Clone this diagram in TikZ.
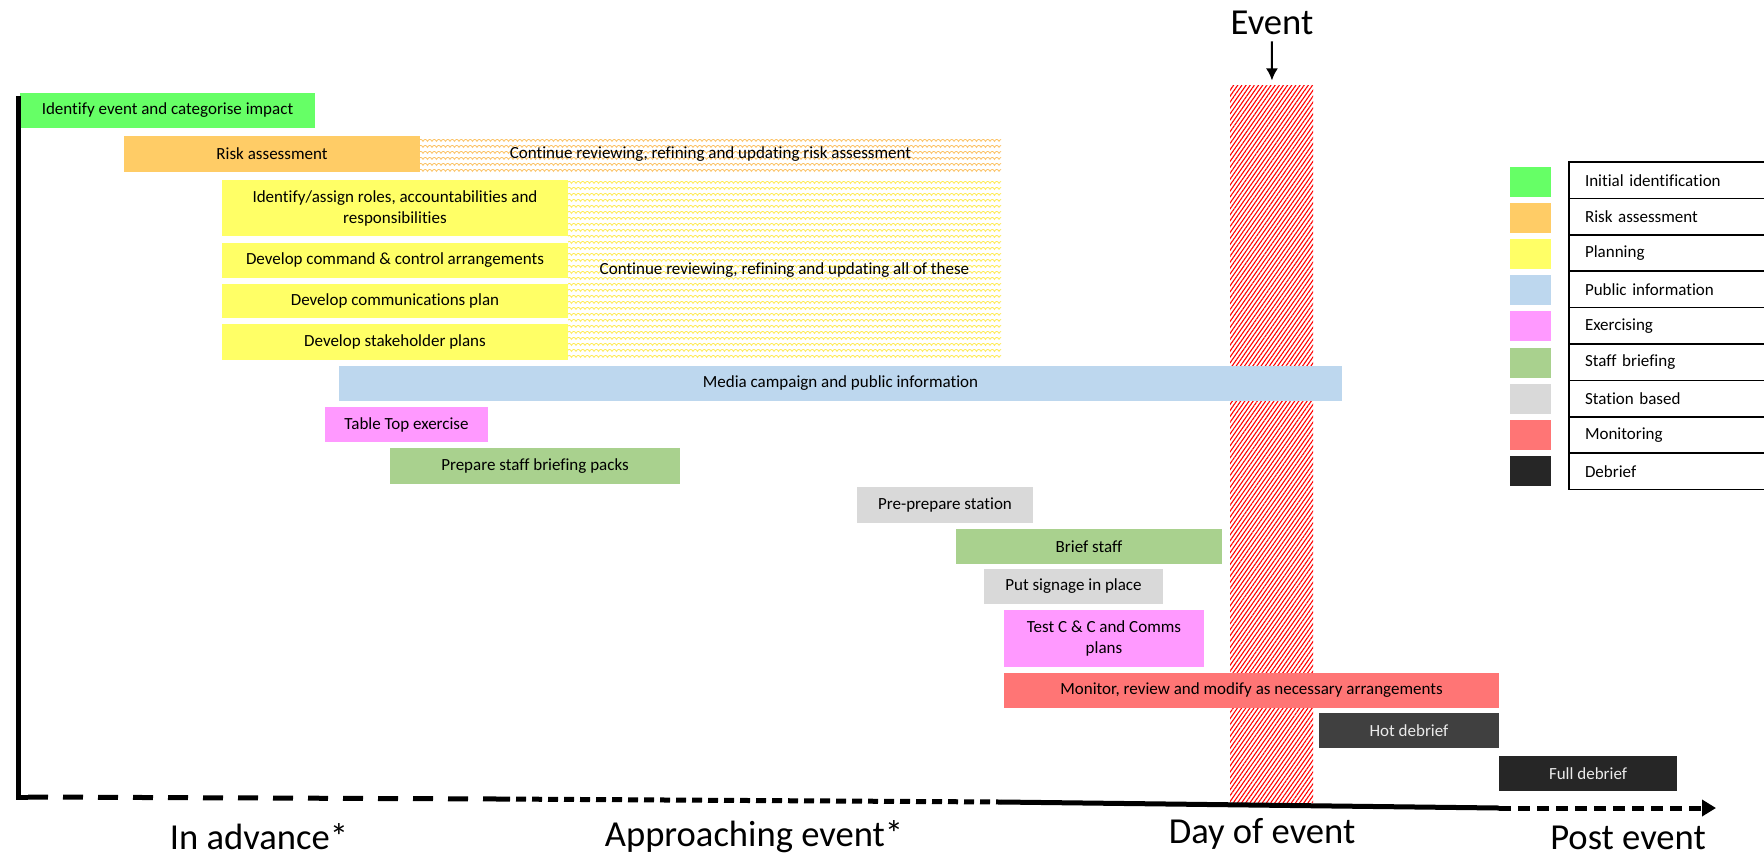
\documentclass[tikz,border=0pt]{standalone}
\usepackage{fontspec}
\setmainfont{Carlito}[Ligatures=NoCommon]
\usetikzlibrary{patterns,patterns.meta,arrows.meta}
\definecolor{initid}{HTML}{66FF66}
\definecolor{riskass}{HTML}{FFCC66}
\definecolor{planning}{HTML}{FFFF66}
\definecolor{pubinfo}{HTML}{BDD7EE}
\definecolor{exercise}{HTML}{FF99FF}
\definecolor{briefing}{HTML}{A9D18E}
\definecolor{station}{HTML}{D9D9D9}
\definecolor{monitor}{HTML}{FF7575}
\definecolor{debrief}{HTML}{262626}
\definecolor{hotdeb}{HTML}{404040}
\definecolor{riskwave}{HTML}{FBC060}
\definecolor{planwave}{HTML}{FFEA50}
\pgfdeclarepatternformonly{waves}{\pgfqpoint{-0.5pt}{-0.5pt}}{\pgfqpoint{5pt}{3.5pt}}{\pgfqpoint{4.5pt}{3pt}}%
{
	\pgfsetlinewidth{0.4pt}
	\pgfpathmoveto{\pgfqpoint{0pt}{0.8pt}}
	\pgfpathcurveto{\pgfqpoint{0.6pt}{2.1pt}}{\pgfqpoint{1.6pt}{2.1pt}}{\pgfqpoint{2.25pt}{0.8pt}}
	\pgfpathcurveto{\pgfqpoint{2.9pt}{2.1pt}}{\pgfqpoint{3.9pt}{2.1pt}}{\pgfqpoint{4.5pt}{0.8pt}}
	\pgfusepath{stroke}
}
\newcommand{\taskbar}[7]% name, x1, y1, x2, y2, style, text
{\node[#6,minimum width={(#4-#2)*0.5pt},minimum height={(#5-#3)*0.5pt}] (#1) at ({(#2+#4)/2},{(#3+#5)/2}) {#7};
}

\begin{document}
\begin{tikzpicture}[x=0.5pt,y=-0.5pt,
	bar/.style={fill=#1,inner sep=0pt,align=center,font=\fontsize{8.5}{10.5}\selectfont},
	wave/.style={pattern=waves,pattern color=#1,inner sep=0pt,align=center,font=\fontsize{8.5}{10.5}\selectfont},
	hatch/.style={inner sep=0pt,pattern={Lines[angle=55,distance=1.7pt,line width=0.55pt]},pattern color=red},
	phase/.style={inner sep=1pt,font=\fontsize{18.3}{20}\selectfont},
	swatch/.style={fill=#1,inner sep=0pt,minimum width=20.5pt,minimum height=15pt},
	keyrow/.style={draw,line width=0.8pt,inner xsep=8pt,inner ysep=0pt,text width=83.5pt,align=left,minimum height=18.2pt,font=\fontsize{8.5}{10}\selectfont},
	axisline/.style={line width=2.5pt}]
			\useasboundingbox (0,0) rectangle (1764,857);
			\taskbar{evday}{1230}{85}{1313}{802}{hatch}{}
			\node[phase] (evlabel) at (1272,23) {Event};
			\draw[-{Latex[length=6pt,width=6pt]},line width=1pt,shorten <=2pt,shorten >=2pt] (evlabel) -- (evday);
			\taskbar{ident}{20}{93}{315}{128}{bar=initid}{Identify event and categorise impact}
			\taskbar{risk}{124}{136}{420}{172}{bar=riskass}{Risk assessment}
			\taskbar{riskmore}{420}{136}{1001}{172}{wave=riskwave}{Continue reviewing, refining and updating risk assessment}
			\taskbar{roles}{222}{180}{568}{236}{bar=planning}{Identify/assign roles, accountabilities and\\responsibilities}
			\taskbar{command}{222}{243}{568}{278}{bar=planning}{Develop command \& control arrangements}
			\taskbar{comms}{222}{284}{568}{318}{bar=planning}{Develop communications plan}
			\taskbar{stake}{222}{324}{568}{360}{bar=planning}{Develop stakeholder plans}
			\taskbar{planmore}{568}{180}{1001}{360}{wave=planwave}{Continue reviewing, refining and updating all of these}
			\taskbar{media}{339}{366}{1342}{401}{bar=pubinfo}{Media campaign and public information}
			\taskbar{tabletop}{325}{407}{488}{442}{bar=exercise}{Table Top exercise}
			\taskbar{packs}{390}{448}{680}{484}{bar=briefing}{Prepare staff briefing packs}
			\taskbar{prestation}{857}{487}{1033}{523}{bar=station}{Pre-prepare station}
			\taskbar{brief}{956}{529}{1222}{564}{bar=briefing}{Brief staff}
			\taskbar{signage}{984}{569}{1163}{604}{bar=station}{Put signage in place}
			\taskbar{testcc}{1004}{610}{1204}{667}{bar=exercise}{Test C \& C and Comms\\plans}
			\taskbar{watch}{1004}{673}{1499}{708}{bar=monitor}{Monitor, review and modify as necessary arrangements}
			\taskbar{hotdebrief}{1319}{713}{1499}{748}{bar=hotdeb,text=white!92!black}{Hot debrief}
			\taskbar{fulldebrief}{1499}{756}{1677}{791}{bar=debrief,text=white!92!black}{Full debrief}
			\foreach \col/\txt [count=\i from 0] in {initid/Initial identification,riskass/Risk assessment,planning/Planning,pubinfo/Public information,exercise/Exercising,briefing/Staff briefing,station/Station based,monitor/Monitoring,debrief/Debrief}{
				\node[swatch=\col] (sw\i) at (1530,{182+36.1*\i}) {};
				\node[keyrow] (key\i) at (1668.5,{180.2+36.4*\i}) {\txt};
			}
			\coordinate (top) at (18,96);
			\coordinate (origin) at (18,797);
			\coordinate (m1) at (500,799);
			\coordinate (m2) at (1001,802);
			\coordinate (m3) at (1499,808);
			\coordinate (tip) at (1716,808);
			\draw[axisline] (top) -- (origin) -- ++(10,0);
			\draw[axisline,dash pattern=on 10pt off 7.5pt] (origin) ++(10,0) -- (m1);
			\draw[axisline,dash pattern=on 5pt off 3pt] (m1) -- (m2);
			\draw[axisline] (m2) -- (m3);
			\draw[axisline,dash pattern=on 6pt off 3.5pt,-{Triangle[length=7pt,width=8pt]}] (m3) -- (tip);
			\node[phase] (adv) at (259,837) {In advance*};
			\node[phase] (appr) at (754,837) {Approaching event*};
			\node[phase] (day) at (1262,834) {Day of event};
			\node[phase] (post) at (1628,838) {Post event};
\end{tikzpicture}
\end{document}
